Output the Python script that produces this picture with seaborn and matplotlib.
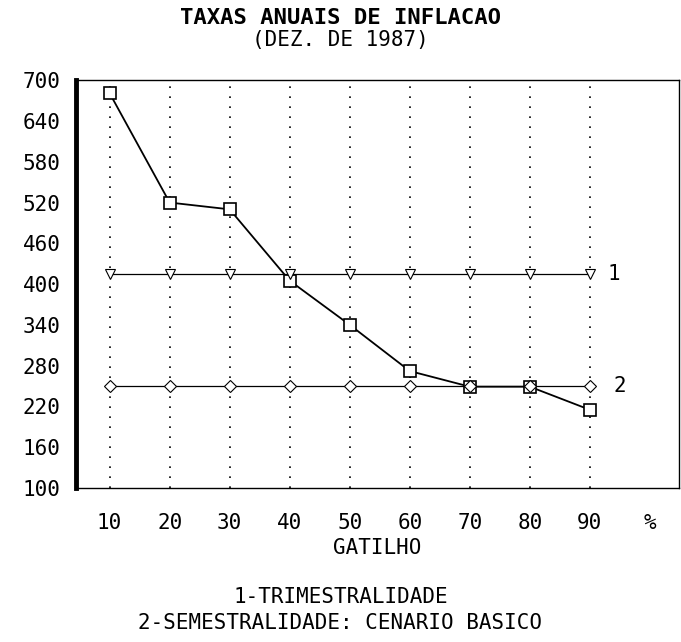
import matplotlib
matplotlib.use("Agg")
import matplotlib.pyplot as plt
import seaborn as sns
import pandas as pd

gatilho = [10, 20, 30, 40, 50, 60, 70, 80, 90]
serie_quadrado = [681, 520, 510, 405, 340, 272, 249, 249, 215]
trimestralidade = [415] * 9
semestralidade = [250] * 9
y_ticks = [100, 160, 220, 280, 340, 400, 460, 520, 580, 640, 700]

sns.set_style("white")
plt.rcParams['font.family'] = ['DejaVu Sans Mono', 'DejaVu Sans']
plt.rcParams['text.color'] = 'black'
plt.rcParams['xtick.color'] = 'black'
plt.rcParams['ytick.color'] = 'black'
plt.rcParams['axes.labelcolor'] = 'black'

df = pd.DataFrame({'x': gatilho, 'q': serie_quadrado,
                   't': trimestralidade, 's': semestralidade})

fig = plt.figure(figsize=(6.81, 6.42), dpi=100)
ax = fig.add_axes([0.1116, 0.240, 0.885, 0.635])

for x in gatilho:
    ax.axvline(x, color='black', lw=1.2, ls=(0, (1, 5)), zorder=0)

sns.lineplot(data=df, x='x', y='q', ax=ax, color='black', lw=1.3,
             marker='s', markersize=9, markerfacecolor='white',
             markeredgecolor='black', markeredgewidth=1.2)
sns.lineplot(data=df, x='x', y='t', ax=ax, color='black', lw=0.9,
             marker='v', markersize=7, markerfacecolor='white',
             markeredgecolor='black', markeredgewidth=0.8)
sns.lineplot(data=df, x='x', y='s', ax=ax, color='black', lw=0.9,
             marker='D', markersize=6, markerfacecolor='white',
             markeredgecolor='black', markeredgewidth=0.8)

ax.text(93, trimestralidade[-1], '1', fontsize=15, va='center', ha='left')
ax.text(94, semestralidade[-1], '2', fontsize=15, va='center', ha='left')

ax.set_xlim(4.4, 104.8)
ax.set_ylim(100, 700)
ax.set_yticks(y_ticks)
ax.set_yticklabels([str(v) for v in y_ticks], fontsize=15)
ax.set_xticks(gatilho + [100])
ax.set_xticklabels([str(v) for v in gatilho] + ['%'], fontsize=15)
ax.tick_params(axis='y', direction='inout', length=10, width=1, pad=6)
ax.tick_params(axis='x', direction='in', length=4, width=0.8, pad=18)
ax.set_xlabel('GATILHO', fontsize=15, labelpad=4)
ax.set_ylabel('')

for s in ax.spines.values():
    s.set_color('black')
    s.set_linewidth(1.0)
ax.spines['left'].set_linewidth(3.5)

fig.text(0.5, 0.972, 'TAXAS ANUAIS DE INFLACAO', ha='center', va='center',
         fontsize=16, fontweight='bold')
fig.text(0.5, 0.937, '(DEZ. DE 1987)', ha='center', va='center', fontsize=15)
fig.text(0.5, 0.070, '1-TRIMESTRALIDADE', ha='center', va='center', fontsize=15)
fig.text(0.5, 0.030, '2-SEMESTRALIDADE: CENARIO BASICO', ha='center',
         va='center', fontsize=15)

fig.savefig('out.png', dpi=100)
